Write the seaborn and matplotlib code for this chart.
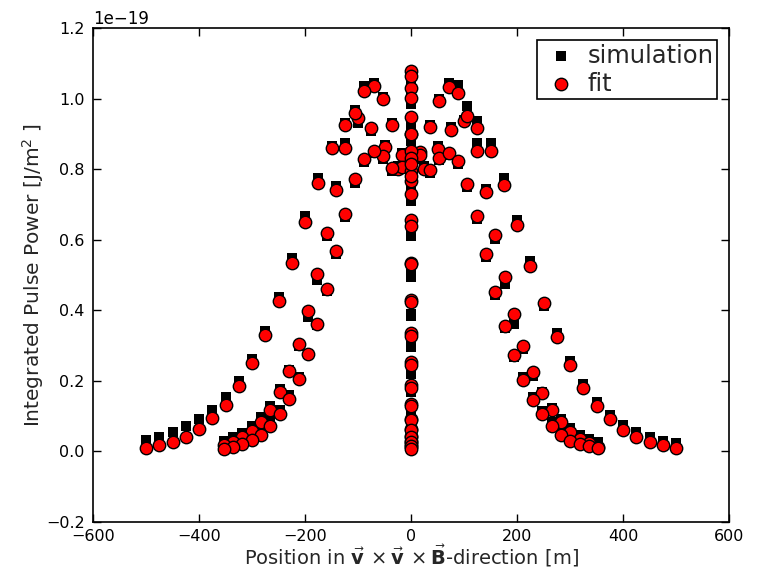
import numpy as np
import pandas as pd
import matplotlib
matplotlib.use("Agg")
import matplotlib.pyplot as plt
import seaborn as sns

SCALE = 1e-19

# projected antenna positions along v x v x B [m], rings 1..20
axis_pos = [25, 50, 75, 100, 125, 150, 175, 200, 225, 250,
            275, 300, 325, 350, 375, 400, 425, 450, 475, 500]
diag_pos = [17.7, 35.4, 53.0, 70.7, 88.4, 106.1, 123.7, 141.4, 159.1, 176.8,
            194.5, 212.1, 229.8, 247.5, 265.2, 282.8, 300.5, 318.2, 335.9, 353.6]
zero_pos = [0] * 20

# fit values [1e-19 J/m^2]
fit_east = [0.80, 0.858, 0.911, 0.936, 0.916, 0.851, 0.755, 0.642, 0.526, 0.420,
            0.325, 0.246, 0.180, 0.130, 0.092, 0.062, 0.041, 0.026, 0.017, 0.010]
fit_west = [0.80, 0.863, 0.916, 0.944, 0.925, 0.861, 0.762, 0.650, 0.535, 0.427,
            0.331, 0.251, 0.185, 0.133, 0.094, 0.064, 0.042, 0.028, 0.017, 0.009]
fit_ne = [0.85, 0.919, 0.993, 1.033, 1.016, 0.952, 0.851, 0.736, 0.613, 0.495,
          0.389, 0.300, 0.224, 0.165, 0.118, 0.083, 0.055, 0.036, 0.024, 0.014]
fit_se = [0.839, 0.797, 0.831, 0.847, 0.823, 0.759, 0.668, 0.561, 0.453, 0.356,
          0.272, 0.203, 0.147, 0.105, 0.072, 0.047, 0.031, 0.020, 0.015, 0.010]
fit_nw = [0.840, 0.925, 0.998, 1.037, 1.023, 0.960, 0.859, 0.740, 0.619, 0.503,
          0.397, 0.305, 0.227, 0.168, 0.118, 0.083, 0.057, 0.040, 0.028, 0.017]
fit_sw = [0.806, 0.803, 0.837, 0.853, 0.830, 0.771, 0.674, 0.567, 0.460, 0.361,
          0.276, 0.206, 0.149, 0.105, 0.072, 0.048, 0.033, 0.020, 0.012, 0.008]
fit_north = [0.795, 0.948, 1.078, 1.031, 0.899, 0.853, 0.767, 0.655, 0.535, 0.429,
             0.337, 0.253, 0.187, 0.135, 0.092, 0.064, 0.045, 0.031, 0.022, 0.012]
fit_south = [0.781, 0.901, 1.064, 1.001, 0.833, 0.814, 0.729, 0.639, 0.530, 0.423,
             0.328, 0.246, 0.180, 0.130, 0.088, 0.060, 0.040, 0.027, 0.016, 0.008]

# simulated values [1e-19 J/m^2]
sim_east = [0.81, 0.865, 0.919, 0.940, 0.936, 0.875, 0.776, 0.655, 0.540, 0.413,
            0.335, 0.255, 0.190, 0.140, 0.102, 0.074, 0.054, 0.040, 0.031, 0.025]
sim_west = [0.81, 0.870, 0.908, 0.932, 0.930, 0.866, 0.776, 0.666, 0.548, 0.439,
            0.340, 0.262, 0.201, 0.154, 0.118, 0.092, 0.071, 0.055, 0.042, 0.033]
sim_ne = [0.85, 0.925, 1.000, 1.045, 1.040, 0.979, 0.875, 0.743, 0.602, 0.474,
          0.361, 0.290, 0.215, 0.168, 0.124, 0.092, 0.066, 0.048, 0.036, 0.028]
sim_se = [0.830, 0.790, 0.825, 0.840, 0.815, 0.750, 0.660, 0.552, 0.444, 0.350,
          0.268, 0.210, 0.155, 0.115, 0.084, 0.060, 0.045, 0.034, 0.027, 0.022]
sim_nw = [0.845, 0.930, 1.005, 1.045, 1.035, 0.967, 0.875, 0.752, 0.610, 0.486,
          0.380, 0.298, 0.232, 0.178, 0.130, 0.097, 0.072, 0.053, 0.040, 0.030]
sim_sw = [0.800, 0.795, 0.830, 0.845, 0.820, 0.762, 0.665, 0.560, 0.455, 0.358,
          0.276, 0.212, 0.160, 0.118, 0.087, 0.064, 0.048, 0.036, 0.028, 0.022]
sim_north = [0.775, 0.922, 1.060, 1.010, 0.880, 0.830, 0.740, 0.617, 0.503, 0.390,
             0.300, 0.224, 0.173, 0.122, 0.083, 0.058, 0.040, 0.028, 0.020, 0.011]
sim_south = [0.760, 0.880, 1.045, 0.985, 0.812, 0.790, 0.710, 0.610, 0.495, 0.385,
             0.295, 0.220, 0.168, 0.118, 0.080, 0.055, 0.037, 0.025, 0.015, 0.008]

arms = [
    (axis_pos, 1, fit_east, sim_east),
    (axis_pos, -1, fit_west, sim_west),
    (diag_pos, 1, fit_ne, sim_ne),
    (diag_pos, 1, fit_se, sim_se),
    (diag_pos, -1, fit_nw, sim_nw),
    (diag_pos, -1, fit_sw, sim_sw),
    (zero_pos, 1, fit_north, sim_north),
    (zero_pos, 1, fit_south, sim_south),
]

frames = []
for pos, sign, fit, sim in arms:
    frames.append(pd.DataFrame({
        "pos": sign * np.array(pos, dtype=float),
        "fit": np.array(fit) * SCALE,
        "sim": np.array(sim) * SCALE,
    }))
df = pd.concat(frames, ignore_index=True)

sns.set_style("ticks")
plt.rcParams["font.family"] = ["DejaVu Sans"]
plt.rcParams["mathtext.fontset"] = "dejavusans"

fig = plt.figure(figsize=(7.65, 5.73), dpi=100)
ax = fig.add_axes([0.1216, 0.089, 0.8314, 0.862])

sns.scatterplot(data=df, x="pos", y="sim", marker="s", color="black",
                s=58, linewidth=0, label="simulation", ax=ax)
sns.scatterplot(data=df, x="pos", y="fit", marker="o", color="red",
                edgecolor="black", s=80, linewidth=1, label="fit", ax=ax)

ax.set_xlim(-600, 600)
ax.set_ylim(-0.2e-19, 1.2e-19)
ax.set_xticks([-600, -400, -200, 0, 200, 400, 600])
ax.set_yticks(np.array([-0.2, 0.0, 0.2, 0.4, 0.6, 0.8, 1.0, 1.2]) * SCALE)
ax.tick_params(direction="in", top=True, right=True, length=6, width=1,
               labelsize=11.5, colors="black")
ax.tick_params(axis="x", pad=5)
ax.tick_params(axis="y", pad=6)
ax.yaxis.get_offset_text().set_fontsize(12)
for sp in ax.spines.values():
    sp.set_linewidth(1.2)
    sp.set_color("black")

ax.set_xlabel(r"Position in $\vec{\mathbf{v}}\,\times\vec{\mathbf{v}}\,\times\vec{\mathbf{B}}$-direction [m]",
              fontsize=14, labelpad=-1)
ax.set_ylabel(r"Integrated Pulse Power [J/m$^2$ ]", fontsize=14.5, labelpad=0)

leg = ax.legend(loc="upper right", scatterpoints=1, fancybox=False,
                framealpha=1, edgecolor="black", fontsize=17.5,
                borderpad=0.15, handletextpad=0.3, labelspacing=0.15,
                handlelength=1.6, borderaxespad=0.5)
leg.get_frame().set_linewidth(1.2)

fig.savefig("out.png", dpi=100)
